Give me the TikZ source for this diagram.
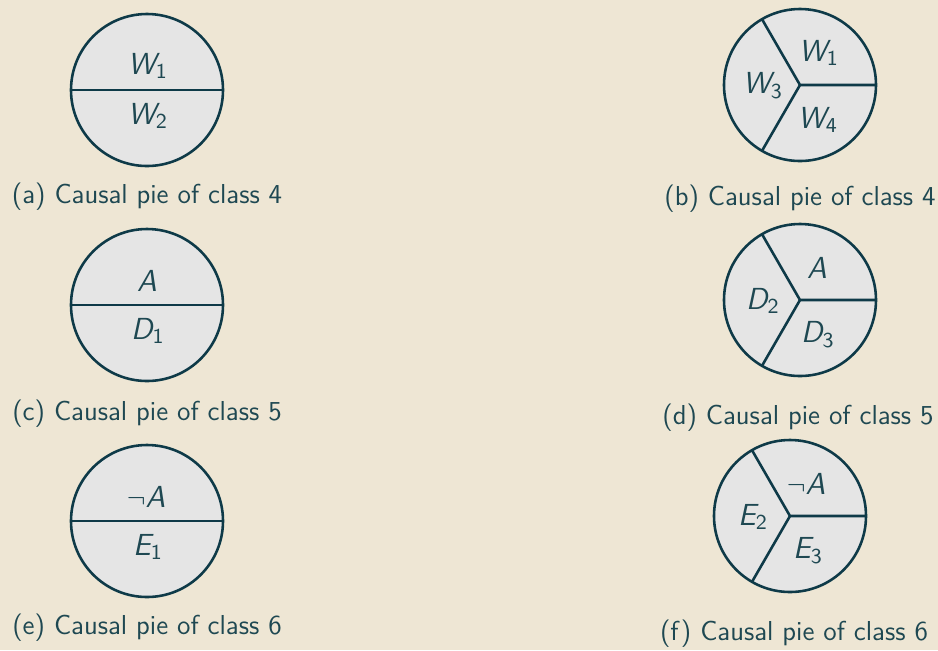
\documentclass[tikz,border=0pt]{standalone}
\usepackage{amsmath}
\usepackage{amssymb}
\usepackage{tikz}

\definecolor{pagebg}{RGB}{238,230,212}
\definecolor{piefill}{RGB}{229,229,229}
\definecolor{pieline}{RGB}{14,58,72}
\definecolor{pietext}{RGB}{30,72,82}

\begin{document}
\begin{tikzpicture}[x=0.15mm, y=-0.15mm,
        pie/.style={circle, draw=pieline, fill=piefill, line width=1.1pt, minimum size=22.8mm, inner sep=0pt, outer sep=0pt},
        cut/.style={draw=pieline, line width=1.1pt},
        slice/.style={text=pietext, font=\sffamily\fontsize{13}{15}\selectfont, inner sep=1pt},
        caption/.style={text=pietext, font=\sffamily\fontsize{11.7}{14}\selectfont, inner sep=0pt}]
        \fill[pagebg] (0,0) rectangle (938,650);
        \useasboundingbox (0,0) rectangle (938,650);

        % two-slice pies on the left
        \node[pie] (pa) at (147, 90) {};
        \node[pie] (pc) at (147, 305) {};
        \node[pie] (pe) at (147, 521) {};
        \draw[cut] (pa.west) to (pa.east);
        \draw[cut] (pc.west) to (pc.east);
        \draw[cut] (pe.west) to (pe.east);

        \node[slice] (wa1) at (148, 66) {$\textsl{W}_{\textsf{1}}$};
        \node[slice] (wa2) at (148, 116) {$\textsl{W}_{\textsf{2}}$};
        \node[slice] (ac) at (147, 281) {$\textsl{A}$};
        \node[slice] (dc1) at (148, 331) {$\textsl{D}_{\textsf{1}}$};
        \node[slice] (ae) at (146, 497) {$\neg\textsl{A}$};
        \node[slice] (ee1) at (148, 547) {$\textsl{E}_{\textsf{1}}$};

        % three-slice pies on the right
        \node[pie] (pb) at (800, 85) {};
        \node[pie] (pd) at (800, 300) {};
        \node[pie] (pf) at (790, 516) {};
        \draw[cut] (pb.0) to (pb.center) to (pb.120);
        \draw[cut] (pb.center) to (pb.240);
        \draw[cut] (pd.0) to (pd.center) to (pd.120);
        \draw[cut] (pd.center) to (pd.240);
        \draw[cut] (pf.0) to (pf.center) to (pf.120);
        \draw[cut] (pf.center) to (pf.240);

        \node[slice] (wb1) at (819, 53) {$\textsl{W}_{\textsf{1}}$};
        \node[slice] (wb3) at (763, 86) {$\textsl{W}_{\textsf{3}}$};
        \node[slice] (wb4) at (818, 120) {$\textsl{W}_{\textsf{4}}$};
        \node[slice] (ad) at (817, 268) {$\textsl{A}$};
        \node[slice] (dd2) at (763, 301) {$\textsl{D}_{\textsf{2}}$};
        \node[slice] (dd3) at (818, 335) {$\textsl{D}_{\textsf{3}}$};
        \node[slice] (af) at (806, 484) {$\neg\textsl{A}$};
        \node[slice] (ef2) at (753, 517) {$\textsl{E}_{\textsf{2}}$};
        \node[slice] (ef3) at (808, 551) {$\textsl{E}_{\textsf{3}}$};

        % captions
        \node[caption] (ca) at (147, 197) {(a) Causal pie of class 4};
        \node[caption] (cb) at (800, 199) {(b) Causal pie of class 4};
        \node[caption] (cc) at (147, 414) {(c) Causal pie of class 5};
        \node[caption] (cd) at (798, 418) {(d) Causal pie of class 5};
        \node[caption] (ce) at (147, 628) {(e) Causal pie of class 6};
        \node[caption] (cf) at (794, 634) {(f) Causal pie of class 6};
    \end{tikzpicture}
\end{document}
